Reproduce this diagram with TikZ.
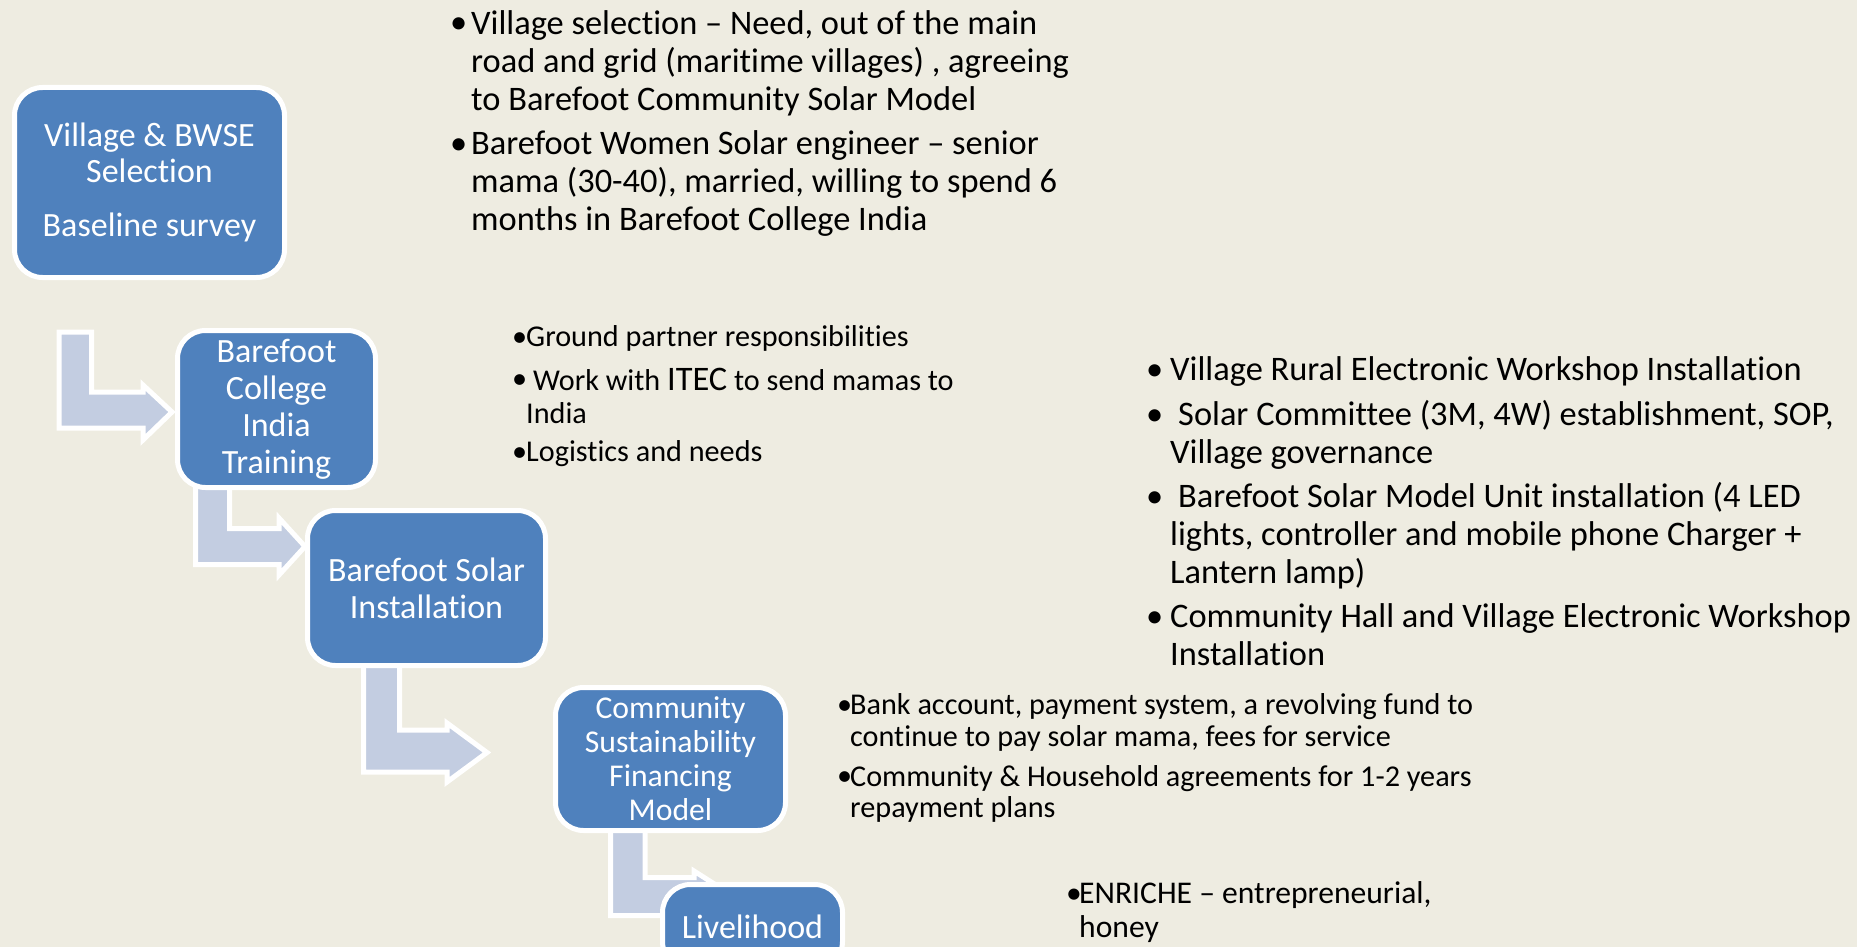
\documentclass[tikz,border=0pt]{standalone}
\usepackage{fontspec}
\setmainfont{Carlito}[Ligatures={NoCommon}]
\definecolor{bg}{RGB}{238,236,225}
\definecolor{boxblue}{RGB}{79,129,189}
\definecolor{arrowfill}{RGB}{195,205,225}
\begin{document}
\begin{tikzpicture}[x=1pt,y=-1pt,
  box/.style={draw=white, line width=5pt, fill=boxblue, rounded corners=28pt, inner sep=0pt, text=white, align=center},
  barrow/.style={draw=white, line width=5pt, fill=arrowfill, line join=miter},
  bul/.style={anchor=base west, inner sep=0pt},
  para/.style={anchor=base west, inner sep=0pt, align=left},
  big/.style={font=\fontsize{34.4}{38}\selectfont},
  small/.style={font=\fontsize{30.2}{33}\selectfont},
  bank/.style={font=\fontsize{30.2}{31.5}\selectfont}]
\useasboundingbox (0,0) rectangle (1857,947);
\clip (0,0) rectangle (1857,947);
\fill[bg] (0,0) rectangle (1857,947);

% bent block arrows
\path[barrow] (59,332) -- (91.5,332) -- (91.5,392) -- (143,392) -- (143,385) -- (172,412) -- (143,440) -- (143,428) -- (59,428) -- cycle;
\path[barrow] (195.5,486) -- (229.5,486) -- (229.5,528.5) -- (279,528.5) -- (279,518) -- (305,546.5) -- (279,575) -- (279,564.5) -- (195.5,564.5) -- cycle;
\path[barrow] (363.5,665) -- (399.5,665) -- (399.5,730) -- (447,730) -- (447,723) -- (487,752.5) -- (447,782) -- (447,772) -- (363.5,772) -- cycle;
\path[barrow] (610.5,828) -- (645,828) -- (645,877.5) -- (694,877.5) -- (694,871) -- (734,896.5) -- (694,922) -- (694,915.5) -- (610.5,915.5) -- cycle;

% boxes
\node[box, minimum width=270pt, minimum height=190pt, font=\fontsize{34}{36}\selectfont] (b1) at (149.5,182.5) {Village \& BWSE\\Selection\\[18pt]Baseline survey};
\node[box, minimum width=198pt, minimum height=157pt, font=\fontsize{34}{37}\selectfont] (b2) at (276.5,409) {Barefoot\\College\\India\\Training};
\node[box, minimum width=238pt, minimum height=155pt, font=\fontsize{34}{37}\selectfont] (b3) at (426.5,588) {Barefoot Solar\\Installation};
\node[box, minimum width=230pt, minimum height=143pt, font=\fontsize{31.7}{34}\selectfont] (b4) at (670.5,759) {Community\\Sustainability\\Financing\\Model};
\node[box, minimum width=180pt, minimum height=85pt, font=\fontsize{34}{37}\selectfont] (b5) at (752.5,927) {Livelihood};

% top text block (multi-line nodes: base = last line)
\node[bul,big] (tb1) at (450,34) {•};
\node[para,big] (tp1) at (471,110.5) {Village selection – Need, out of the main\\road and grid (maritime villages) , agreeing\\to Barefoot Community Solar Model};
\node[bul,big] (tb2) at (450,154) {•};
\node[para,big] (tp2) at (471,230.5) {Barefoot Women Solar engineer – senior\\mama (30-40), married, willing to spend 6\\months in Barefoot College India};

% middle text block
\node[bul,small] (mb1) at (512,346) {•};
\node[para,small] (mp1) at (526,346) {Ground partner responsibilities};
\node[bul,small] (mb2) at (512,388) {•};
\node[para,small] (mp2) at (526,423) {\hspace{7pt}Work with {\fontsize{34.4}{38}\selectfont ITEC} to send mamas to\\India};
\node[bul,small] (mb3) at (512,461) {•};
\node[para,small] (mp3) at (526,461) {Logistics and needs};

% right text block
\node[bul,big] (rb1) at (1146,380.5) {•};
\node[para,big] (rp1) at (1170,380.5) {Village Rural Electronic Workshop Installation};
\node[bul,big] (rb2) at (1146,425.5) {•};
\node[para,big] (rp2) at (1170,463.5) {\hspace{8pt}Solar Committee (3M, 4W) establishment, SOP,\\Village governance};
\node[bul,big] (rb3) at (1146,507) {•};
\node[para,big] (rp3) at (1170,583) {\hspace{8pt}Barefoot Solar Model Unit installation (4 LED\\lights, controller and mobile phone Charger +\\Lantern lamp)};
\node[bul,big] (rb4) at (1146,627) {•};
\node[para,big] (rp4) at (1170,665) {Community Hall and Village Electronic Workshop\\Installation};

% bank text block
\node[bul,bank] (kb1) at (837,714) {•};
\node[para,bank] (kp1) at (850,746) {Bank account, payment system, a revolving fund to\\continue to pay solar mama, fees for service};
\node[bul,bank] (kb2) at (837,785.5) {•};
\node[para,bank] (kp2) at (850,817.5) {Community \& Household agreements for 1-2 years\\repayment plans};

% enrich text
\node[bul,font=\fontsize{31.6}{34}\selectfont] (eb) at (1066,903) {•};
\node[para,font=\fontsize{31.6}{34}\selectfont] (ep) at (1079,937) {ENRICHE – entrepreneurial,\\honey};
\end{tikzpicture}
\end{document}
